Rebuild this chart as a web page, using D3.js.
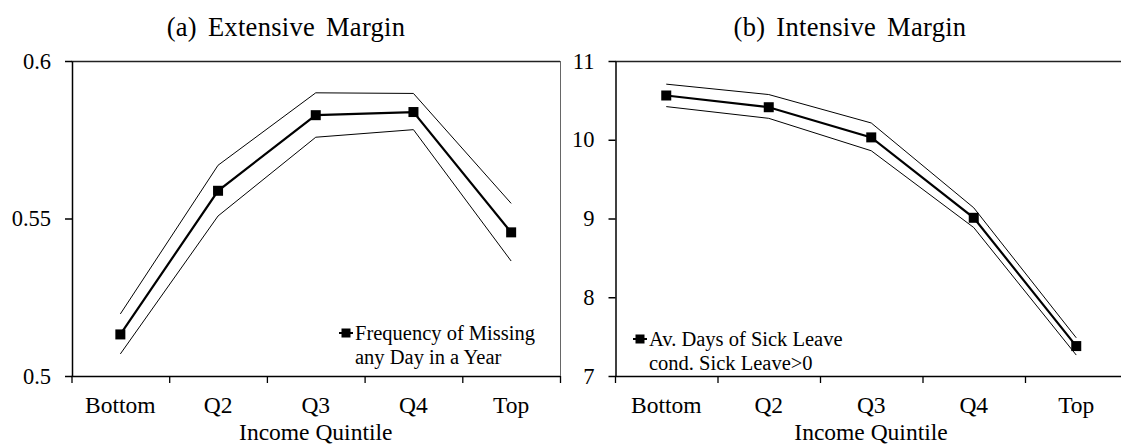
<!DOCTYPE html>
<html>
<head>
<meta charset="utf-8">
<script src="https://cdn.jsdelivr.net/npm/d3@7"></script>
<style>
  html, body { margin: 0; padding: 0; background: #fff; }
  svg { display: block; }
  text { font-family: "Liberation Serif", "Times New Roman", serif; fill: #000; }
</style>
</head>
<body>
<svg id="chart" width="1121" height="446"></svg>
<script>
// Income quintiles shared by both panels
const quintiles = ["Bottom", "Q2", "Q3", "Q4", "Top"];

// (a) Extensive margin: share missing any day, with confidence bounds
const extensiveEst   = [0.5132, 0.5588, 0.5828, 0.5838, 0.5456];
const extensiveUpper = [0.5197, 0.5669, 0.5899, 0.5897, 0.5548];
const extensiveLower = [0.5070, 0.5508, 0.5758, 0.5782, 0.5365];
const extensiveTicks = [0.5, 0.55, 0.6];
const extensiveTickLabels = ["0.5", "0.55", "0.6"];

// (b) Intensive margin: average days of sick leave, with confidence bounds
const intensiveEst   = [10.562, 10.413, 10.030, 9.009, 7.380];
const intensiveUpper = [10.706, 10.574, 10.213, 9.136, 7.485];
const intensiveLower = [10.421, 10.272, 9.860, 8.885, 7.266];
const intensiveTicks = [7, 8, 9, 10, 11];
const intensiveTickLabels = ["7", "8", "9", "10", "11"];

const svg = d3.select("#chart");

function panel(cfg) {
  const g = svg.append("g");
  const x = d3.scaleBand().domain(quintiles).range([cfg.x0, cfg.x1]);
  const y = d3.scaleLinear().domain(cfg.domain).range([cfg.y1, cfg.y0]);
  const cx = d => x(d) + x.bandwidth() / 2;
  const right = Math.min(cfg.x1, 1121);

  // Title
  g.append("text")
    .attr("x", cfg.titleX).attr("y", 36)
    .attr("text-anchor", "middle")
    .style("font-size", "26.5px")
    .style("word-spacing", "4px")
    .style("letter-spacing", "0.3px")
    .text(cfg.title);

  // Frame: top line and, where it falls inside the page, the right side
  g.append("line")
    .attr("x1", cfg.x0).attr("x2", right)
    .attr("y1", cfg.y0 + 0.5).attr("y2", cfg.y0 + 0.5)
    .attr("stroke", "#222").attr("stroke-width", 1.3);
  if (cfg.x1 <= 1121) {
    g.append("line")
      .attr("x1", cfg.x1 + 0.5).attr("x2", cfg.x1 + 0.5)
      .attr("y1", cfg.y0).attr("y2", cfg.y1)
      .attr("stroke", "#666").attr("stroke-width", 1);
  }

  // Y axis
  const yAxis = d3.axisLeft(y)
    .tickValues(cfg.ticks)
    .tickFormat((d, i) => cfg.tickLabels[i])
    .tickSizeOuter(0).tickSizeInner(7).tickPadding(14);
  const ya = g.append("g").attr("transform", `translate(${cfg.x0 + 0.5},0)`).call(yAxis);
  ya.selectAll("path, line").attr("stroke", "#000").attr("stroke-width", 1.5);
  ya.selectAll("text").style("font-size", "22.5px")
    .attr("font-family", null);

  // X axis: line with ticks on the band edges
  const edges = quintiles.map(q => x(q)).concat([cfg.x1]).filter(e => e <= 1121);
  g.append("line")
    .attr("x1", cfg.x0).attr("x2", right)
    .attr("y1", cfg.y1 + 0.5).attr("y2", cfg.y1 + 0.5)
    .attr("stroke", "#000").attr("stroke-width", 1.5);
  g.selectAll(".xtick").data(edges).enter()
    .append("line")
    .attr("x1", d => d + 0.5).attr("x2", d => d + 0.5)
    .attr("y1", cfg.y1).attr("y2", cfg.y1 + 7)
    .attr("stroke", "#000").attr("stroke-width", 1.3);
  g.selectAll(".xlab").data(quintiles).enter()
    .append("text")
    .attr("x", d => cx(d)).attr("y", 413)
    .attr("text-anchor", "middle")
    .style("font-size", "23.5px")
    .text(d => d);
  g.append("text")
    .attr("x", cfg.axisTitleX).attr("y", 440)
    .attr("text-anchor", "middle")
    .style("font-size", "23.5px")
    .text("Income Quintile");

  // Confidence bounds
  const line = d3.line().x((d, i) => cx(quintiles[i])).y(d => y(d));
  [cfg.upper, cfg.lower].forEach(arr => {
    g.append("path").datum(arr)
      .attr("d", line).attr("fill", "none")
      .attr("stroke", "#000").attr("stroke-width", 1);
  });

  // Point estimates
  g.append("path").datum(cfg.est)
    .attr("d", line).attr("fill", "none")
    .attr("stroke", "#000").attr("stroke-width", 2.2);
  const m = 10;
  g.selectAll(".marker").data(cfg.est).enter()
    .append("rect")
    .attr("x", (d, i) => cx(quintiles[i]) - m / 2)
    .attr("y", d => y(d) - m / 2)
    .attr("width", m).attr("height", m)
    .attr("fill", "#000");

  // Legend
  const lg = g.append("g").attr("transform", `translate(${cfg.legX},${cfg.legY})`);
  lg.append("line").attr("x1", 0).attr("x2", 14).attr("y1", 0).attr("y2", 0)
    .attr("stroke", "#000").attr("stroke-width", 2);
  lg.append("rect").attr("x", 2.5).attr("y", -4.5).attr("width", 9).attr("height", 9).attr("fill", "#000");
  cfg.legend.forEach((t, i) => {
    lg.append("text")
      .attr("x", 16).attr("y", 7 + i * 24)
      .style("font-size", "20.5px")
      .text(t);
  });
}

panel({
  title: "(a) Extensive Margin", titleX: 286,
  x0: 71.5, x1: 560,
  y0: 61, y1: 376, domain: [0.5, 0.6],
  ticks: extensiveTicks, tickLabels: extensiveTickLabels,
  est: extensiveEst, upper: extensiveUpper, lower: extensiveLower,
  axisTitleX: 315.75,
  legend: ["Frequency of Missing", "any Day in a Year"],
  legX: 339, legY: 333
});

panel({
  title: "(b) Intensive Margin", titleX: 850,
  x0: 615, x1: 1127.5,
  y0: 61, y1: 376, domain: [7, 11],
  ticks: intensiveTicks, tickLabels: intensiveTickLabels,
  est: intensiveEst, upper: intensiveUpper, lower: intensiveLower,
  axisTitleX: 871,
  legend: ["Av. Days of Sick Leave", "cond. Sick Leave>0"],
  legX: 633, legY: 339
});
</script>
</body>
</html>
